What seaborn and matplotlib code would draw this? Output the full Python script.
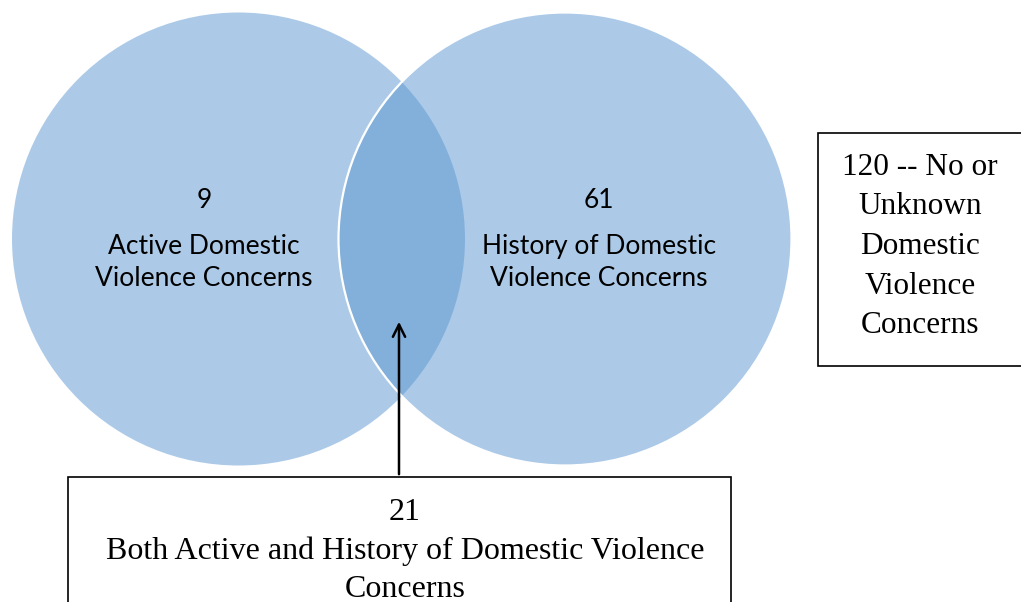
import matplotlib
matplotlib.use("Agg")
import matplotlib.pyplot as plt
from matplotlib.patches import Circle, Rectangle
import seaborn as sns

# ---- data ----
set_names = ["Active Domestic\nViolence Concerns", "History of Domestic\nViolence Concerns"]
set_only_counts = [9, 61]
both_count = 21
both_label = "Both Active and History of Domestic Violence\nConcerns"
neither_count = 120
neither_label = "No or\nUnknown\nDomestic\nViolence\nConcerns"

sns.set_theme(style="white")
plt.rcParams["text.color"] = "black"
fig = plt.figure(figsize=(10.21, 6.02), dpi=100)
ax = fig.add_axes([0, 0, 1, 1])
ax.set_xlim(0, 1021)
ax.set_ylim(602, 0)
ax.axis("off")

fill = "#5B97D1"
centers = [(238.5, 239), (565, 239)]
r = 226.5
for c in centers:
    ax.add_patch(Circle(c, r, facecolor=fill, edgecolor="none", alpha=0.5, zorder=1))
# white outline of right circle
ax.add_patch(Circle(centers[1], r, facecolor="none", edgecolor="white", lw=1.6, zorder=2))

sans = ["Lato", "DejaVu Sans"]
serif = ["Liberation Serif", "DejaVu Serif"]
label_x = [204, 599]
for x, n, name in zip(label_x, set_only_counts, set_names):
    ax.text(x, 201, str(n), ha="center", va="center", fontsize=19, family=sans, color="black", zorder=3)
    ax.text(x, 262.5, name, ha="center", va="center", fontsize=19, family=sans, color="black",
            linespacing=1.38, zorder=3)

# right box
ax.add_patch(Rectangle((818, 133), 210, 233, facecolor="white", edgecolor="black", lw=1.2, zorder=3))
ax.text(920, 246.5, f"{neither_count} -- " + neither_label, ha="center", va="center", fontsize=22.5,
        family=serif, color="black", linespacing=1.48, zorder=4)

# bottom box
ax.add_patch(Rectangle((68, 477), 663, 140, facecolor="white", edgecolor="black", lw=1.2, zorder=3))
ax.text(405, 551, f"{both_count}\n" + both_label, ha="center", va="center", fontsize=23,
        family=serif, color="black", linespacing=1.4, zorder=4)

# arrow
ax.annotate("", xy=(399, 319), xytext=(399, 477),
            arrowprops=dict(arrowstyle="->", color="black", lw=1.8, mutation_scale=22), zorder=5)

fig.savefig("out.png", dpi=100)
